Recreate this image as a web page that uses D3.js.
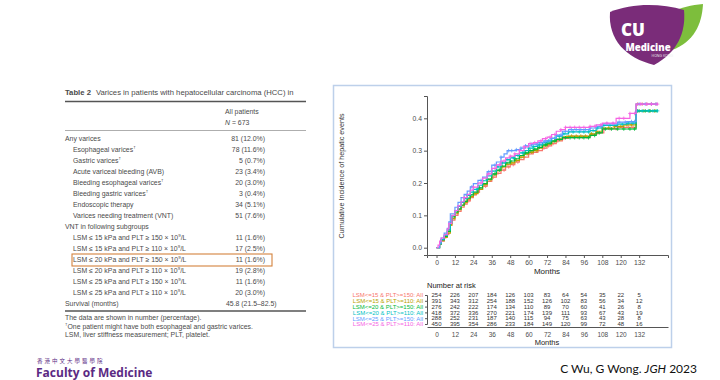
<!DOCTYPE html>
<html><head><meta charset="utf-8">
<script src="https://cdn.jsdelivr.net/npm/d3@7"></script>
<style>body{margin:0;background:#fff}svg{display:block}</style>
</head><body>
<svg id="s" width="720" height="380"></svg>
<script>
// ---------- DATA ----------
const groups = ["LSM<=15 & PLT>=150: All","LSM<=15 & PLT>=110: All","LSM<=20 & PLT>=150: All","LSM<=20 & PLT>=110: All","LSM<=25 & PLT>=150: All","LSM<=25 & PLT>=110: All"];
const groupColors = ["#F8766D","#B79F00","#00BA38","#00BFC4","#619CFF","#F564E3"];
const followUpEnd = 144;
const curveRed = [[0,0],[2,0.012],[3,0.02],[5,0.03],[6,0.04],[8,0.055],[9,0.07],[10,0.085],[12,0.1],[14,0.112],[16,0.125],[18,0.135],[20,0.145],[22,0.155],[24,0.163],[26,0.172],[28,0.18],[30,0.19],[33,0.205],[36,0.218],[39,0.23],[42,0.24],[45,0.25],[48,0.257],[51,0.265],[54,0.272],[57,0.28],[60,0.29],[63,0.295],[66,0.3],[69,0.308],[72,0.315],[75,0.322],[78,0.33],[82,0.338],[86,0.342],[100,0.35],[104,0.355],[109,0.368],[118,0.372],[130,0.444]];
const curveOlive = [[0,0],[2,0.01],[3,0.022],[5,0.032],[7,0.045],[9,0.07],[10,0.09],[12,0.105],[14,0.118],[16,0.13],[18,0.14],[20,0.15],[22,0.158],[24,0.167],[27,0.18],[30,0.195],[33,0.21],[36,0.225],[39,0.238],[42,0.25],[45,0.258],[48,0.262],[51,0.27],[54,0.28],[57,0.29],[60,0.295],[63,0.3],[66,0.308],[69,0.315],[72,0.32],[75,0.328],[78,0.335],[82,0.343],[86,0.345],[100,0.352],[104,0.36],[108,0.37],[116,0.375],[122,0.38],[130,0.423]];
const curveGreen = [[0,0],[2,0.012],[3,0.025],[5,0.035],[7,0.05],[9,0.075],[10,0.095],[12,0.11],[14,0.12],[16,0.132],[18,0.143],[20,0.153],[22,0.163],[24,0.172],[27,0.185],[30,0.198],[33,0.212],[36,0.228],[39,0.24],[42,0.252],[45,0.262],[48,0.268],[51,0.275],[54,0.285],[57,0.293],[60,0.3],[63,0.305],[66,0.31],[69,0.318],[72,0.323],[75,0.33],[78,0.335],[82,0.34],[100,0.347],[104,0.355],[108,0.367],[130,0.423]];
const curveCyan = [[0,0],[2,0.012],[3,0.025],[5,0.038],[7,0.055],[9,0.08],[10,0.1],[12,0.115],[14,0.128],[16,0.14],[18,0.152],[20,0.162],[22,0.172],[24,0.18],[27,0.193],[30,0.207],[33,0.222],[36,0.237],[39,0.25],[42,0.262],[45,0.272],[48,0.278],[51,0.285],[54,0.293],[57,0.3],[60,0.308],[63,0.313],[66,0.318],[69,0.325],[72,0.33],[75,0.338],[78,0.345],[82,0.352],[86,0.358],[100,0.362],[104,0.37],[108,0.378],[118,0.382],[124,0.385],[130,0.423]];
const curveBlue = [[0,0],[2,0.015],[3,0.03],[5,0.045],[7,0.06],[8,0.08],[9,0.105],[12,0.125],[14,0.14],[16,0.155],[18,0.165],[20,0.175],[22,0.188],[24,0.198],[27,0.208],[30,0.218],[33,0.235],[36,0.255],[39,0.265],[42,0.28],[44,0.29],[46,0.3],[52,0.303],[55,0.308],[58,0.315],[62,0.32],[66,0.325],[70,0.33],[74,0.338],[78,0.348],[82,0.36],[86,0.365],[100,0.37],[104,0.375],[108,0.383],[118,0.388],[124,0.39],[130,0.444]];
const curveMagenta = [[0,0],[1,0.008],[2,0.02],[3,0.03],[5,0.04],[7,0.058],[8,0.075],[10,0.1],[12,0.115],[14,0.13],[16,0.142],[18,0.155],[20,0.165],[22,0.178],[24,0.187],[27,0.2],[30,0.215],[33,0.228],[36,0.245],[39,0.256],[42,0.268],[45,0.278],[48,0.283],[51,0.29],[54,0.3],[57,0.312],[60,0.322],[63,0.325],[66,0.33],[69,0.337],[72,0.342],[75,0.35],[78,0.36],[81,0.365],[84,0.372],[100,0.375],[104,0.38],[108,0.385],[117,0.4],[126,0.415],[130,0.444]];
const censorRed = [21,27,32,37,40,44,47,50,53,57,60,63,66,70,73,76,79,83,86,89,92,95,98,101,105,109,113,117,121,125,128,131,134,137,140,143];
const censorOlive = [19,25,31,35,39,43,46,49,52,55,59,62,65,69,72,75,78,81,85,88,91,94,97,101,104,108,112,116,120,124,127,131,135,139,142];
const censorGreen = [22,28,33,38,41,45,48,51,54,58,61,64,67,71,74,77,80,84,87,90,93,96,99,103,106,110,114,118,122,126,129,132,136,139,143];
const censorCyan = [20,26,30,36,40,43,46,50,53,56,60,63,67,70,73,77,80,83,86,89,93,96,99,102,105,109,113,117,121,125,128,131,134,138,141,144];
const censorBlue = [23,29,34,38,42,47,49,52,55,58,62,65,68,71,75,78,81,84,88,91,94,97,100,104,107,111,115,119,123,127,129,132,136,140,143];
const censorMagenta = [18,24,29,34,38,41,44,48,51,54,57,61,64,68,71,74,77,81,84,87,90,93,96,100,103,107,111,115,119,122,126,129,133,137,140,144];
const monthTicks = [0,12,24,36,48,60,72,84,96,108,120,132];
const incidenceTicks = [0,0.1,0.2,0.3,0.4];
const riskRed     = [254,226,207,184,126,103,83,64,54,35,22,5];
const riskOlive   = [391,343,312,254,188,152,126,102,83,56,34,12];
const riskGreen   = [276,242,222,174,134,110,89,70,60,41,26,8];
const riskCyan    = [418,372,336,270,221,174,139,111,93,67,43,19];
const riskBlue    = [288,252,231,187,140,115,94,75,63,43,28,8];
const riskMagenta = [450,395,354,286,233,184,149,120,99,72,48,16];

// table data
const tableLabels = ["Any varices","Esophageal varices|†","Gastric varices|†","Acute variceal bleeding (AVB)","Bleeding esophageal varices|†","Bleeding gastric varices|†","Endoscopic therapy","Varices needing treatment (VNT)","VNT in following subgroups","LSM ≤ 15 kPa and PLT ≥ 150 × 10^9/L","LSM ≤ 15 kPa and PLT ≥ 110 × 10^9/L","LSM ≤ 20 kPa and PLT ≥ 150 × 10^9/L","LSM ≤ 20 kPa and PLT ≥ 110 × 10^9/L","LSM ≤ 25 kPa and PLT ≥ 150 × 10^9/L","LSM ≤ 25 kPa and PLT ≥ 110 × 10^9/L","Survival (months)"];
const tableValues = ["81 (12.0%)","78 (11.6%)","5 (0.7%)","23 (3.4%)","20 (3.0%)","3 (0.4%)","34 (5.1%)","51 (7.6%)","","11 (1.6%)","17 (2.5%)","11 (1.6%)","19 (2.8%)","11 (1.6%)","20 (3.0%)","45.8 (21.5–82.5)"];
const tableIndent = [0,1,1,1,1,1,1,1,0,1,1,1,1,1,1,0];
const highlightedRow = 11;
const footnotes = ["The data are shown in number (percentage).","†One patient might have both esophageal and gastric varices.","LSM, liver stiffness measurement; PLT, platelet."];

// ---------- DRAW ----------
const svg = d3.select("#s");
svg.append("rect").attr("width",720).attr("height",380).attr("fill","#fff");

// ===== Left: table =====
const FS = 6.9;
const T = svg.append("g").attr("font-family","'Liberation Sans', Arial, sans-serif").attr("fill","#4a4a4a");
svg.append("clipPath").attr("id","tclip").append("rect").attr("x",60).attr("y",80).attr("width",246).attr("height",260);
const tt = T.append("text").attr("clip-path","url(#tclip)").attr("x",65).attr("y",94.5).attr("font-size",7.7);
tt.append("tspan").attr("font-weight","bold").text("Table 2");
tt.append("tspan").attr("dx",5).text("Varices in patients with hepatocellular carcinoma (HCC) in");
T.append("line").attr("x1",65).attr("x2",306).attr("y1",101.5).attr("y2",101.5).attr("stroke","#555").attr("stroke-width",1.4);
T.append("text").attr("x",225).attr("y",114).attr("font-size",FS).text("All patients");
const nt = T.append("text").attr("x",225).attr("y",125).attr("font-size",FS);
nt.append("tspan").attr("font-style","italic").text("N");
nt.append("tspan").text(" = 673");
T.append("line").attr("x1",65).attr("x2",306).attr("y1",130.5).attr("y2",130.5).attr("stroke","#777").attr("stroke-width",0.6);

const rowY = i => 141 + i*11;
tableLabels.forEach((lab,i)=>{
  const t = T.append("text").attr("x", 65 + tableIndent[i]*8).attr("y", rowY(i)).attr("font-size",FS);
  if (lab.includes("|")) {
    const [a,b] = lab.split("|");
    t.append("tspan").text(a);
    t.append("tspan").attr("font-size",4.4).attr("dy",-2.8).text(b);
  } else if (lab.includes("^")) {
    const [a,b] = lab.split("^");
    t.append("tspan").text(a);
    t.append("tspan").attr("font-size",4.4).attr("dy",-2.8).text(b[0]);
    t.append("tspan").attr("dy",2.8).text(b.slice(1));
  } else t.text(lab);
  if (tableValues[i]) {
    if (i === tableLabels.length-1)
      T.append("text").attr("x",226).attr("y",rowY(i)).attr("font-size",FS).text(tableValues[i]);
    else
      T.append("text").attr("x",265).attr("y",rowY(i)).attr("font-size",FS).attr("text-anchor","end").text(tableValues[i]);
  }
});
T.append("rect").attr("x",72).attr("y",rowY(highlightedRow)-8).attr("width",200).attr("height",12)
 .attr("fill","none").attr("stroke","#D4823C").attr("stroke-width",1.1);
const lastRule = rowY(tableLabels.length-1)+5;
T.append("line").attr("x1",65).attr("x2",306).attr("y1",lastRule).attr("y2",lastRule).attr("stroke","#555").attr("stroke-width",1.4);
footnotes.forEach((f,i)=>{
  const t = T.append("text").attr("x",65).attr("y",lastRule+9+i*8.5).attr("font-size",FS);
  if (f.startsWith("†")) { t.append("tspan").attr("font-size",4.4).attr("dy",-2.8).text("†"); t.append("tspan").attr("dy",2.8).text(f.slice(1)); }
  else t.text(f);
});

// ===== Right: chart panel =====
svg.append("rect").attr("x",333.5).attr("y",85.5).attr("width",338).attr("height",262)
  .attr("fill","#fff").attr("stroke","#BDD0EA").attr("stroke-width",1.5);

const x = d3.scaleLinear().domain([-6.2,150.8]).range([427,668]);
const y = d3.scaleLinear().domain([-0.0226,0.469]).range([255,96]);
const C = svg.append("g").attr("font-family","'Liberation Sans', Arial, sans-serif");

const yAx = C.append("g").attr("transform","translate(427,0)")
  .call(d3.axisLeft(y).tickValues(incidenceTicks).tickFormat(d3.format(".1f")).tickSize(3).tickPadding(2));
const xAx = C.append("g").attr("transform","translate(0,255)")
  .call(d3.axisBottom(x).tickValues(monthTicks).tickSize(3).tickPadding(2));
[yAx,xAx].forEach(a=>{
  a.select(".domain").attr("stroke","#555").attr("stroke-width",1);
  a.selectAll(".tick line").attr("stroke","#555");
  a.selectAll(".tick text").attr("fill","#4d4d4d").attr("font-size",6.8).attr("font-family","'Liberation Sans', Arial, sans-serif");
});
C.append("text").attr("transform","translate(344,176) rotate(-90)").attr("text-anchor","middle")
  .attr("font-size",7.2).attr("fill","#333").text("Cumulative Incidence of hepatic events");
C.append("text").attr("x",547).attr("y",274).attr("text-anchor","middle").attr("font-size",8).attr("fill","#222").text("Months");

const curves = [curveRed,curveOlive,curveGreen,curveCyan,curveBlue,curveMagenta];
const censors = [censorRed,censorOlive,censorGreen,censorCyan,censorBlue,censorMagenta];
const line = d3.line().x(d=>x(d[0])).y(d=>y(d[1])).curve(d3.curveStepAfter);
const stepAt = (c,t)=>{ let v=0; for (const p of c) if (p[0]<=t) v=p[1]; return v; };
curves.forEach((c,i)=>{
  const pts = c.concat([[followUpEnd, c[c.length-1][1]]]);
  C.append("path").attr("d",line(pts)).attr("fill","none").attr("stroke",groupColors[i]).attr("stroke-width",1.2);
  C.append("g").selectAll("path").data(censors[i]).join("path")
    .attr("transform",t=>`translate(${x(t)},${y(stepAt(c,t))})`)
    .attr("d","M-1.8,0H1.8M0,-1.8V1.8").attr("stroke",groupColors[i]).attr("stroke-width",0.8);
});

// ===== Risk table =====
C.append("text").attr("x",427).attr("y",288).attr("font-size",7.5).attr("fill","#222").text("Number at risk");
const risks = [riskRed,riskOlive,riskGreen,riskCyan,riskBlue,riskMagenta];
const ry = d3.scalePoint().domain(groups).range([295,324]);
const rAx = C.append("g").attr("transform","translate(427,0)").call(d3.axisLeft(ry).tickSize(2).tickPadding(2));
rAx.select(".domain").attr("stroke","#555");
rAx.selectAll(".tick line").attr("stroke","#555");
rAx.selectAll(".tick text").attr("font-size",6).attr("font-family","'Liberation Sans', Arial, sans-serif")
  .attr("fill",(d,i)=>groupColors[i]);
risks.forEach((r,i)=>{
  C.append("g").selectAll("text").data(r).join("text")
    .attr("x",(d,j)=>x(monthTicks[j])).attr("y",ry(groups[i])+2.2).attr("text-anchor","middle")
    .attr("font-size",6).attr("fill","#333").text(d=>d);
});
const rx = C.append("g").attr("transform","translate(0,327)")
  .call(d3.axisBottom(x).tickValues(monthTicks).tickSize(0).tickPadding(5));
rx.select(".domain").attr("stroke","#555");
rx.selectAll(".tick text").attr("fill","#4d4d4d").attr("font-size",6.5).attr("font-family","'Liberation Sans', Arial, sans-serif");
C.append("text").attr("x",547).attr("y",345).attr("text-anchor","middle").attr("font-size",7.5).attr("fill","#222").text("Months");

// ===== CU Medicine logo =====
const L = svg.append("g");
L.append("path").attr("d","M652,30 C660,14 680,6 703,4 C702,24 694,42 672,50 C664,52 656,46 652,30 Z").attr("fill","#7DBE3C");
L.append("path").attr("d","M610,12 C632,3 660,3 684,10 C686,32 678,52 654,65 C626,58 608,40 610,12 Z").attr("fill","#7A2C79");
L.append("text").attr("x",621).attr("y",36).attr("font-family","'Open Sans', sans-serif").attr("font-weight","800").attr("font-size",17).attr("fill","#fff").text("CU");
L.append("text").attr("x",648).attr("y",50.5).attr("text-anchor","middle").attr("font-family","'Open Sans', sans-serif").attr("font-weight","800").attr("font-size",9.6).attr("fill","#fff").text("Medicine");
L.append("text").attr("x",673).attr("y",56.5).attr("text-anchor","end").attr("font-family","'Open Sans', sans-serif").attr("font-size",3.5).attr("fill","#eee").text("HONG KONG");

// ===== Faculty logo =====
svg.append("text").attr("x",37).attr("y",363).attr("font-family","'Noto Sans CJK TC', sans-serif").attr("font-size",5.5).attr("letter-spacing",2).attr("fill","#5B2A83").text("香港中文大學醫學院");
svg.append("text").attr("x",36).attr("y",376.5).attr("font-family","'Open Sans', sans-serif").attr("font-weight","bold").attr("font-size",12).attr("fill","#5B2A83").text("Faculty of Medicine");
svg.append("text").attr("x",37).attr("y",385).attr("font-family","'Open Sans', sans-serif").attr("font-size",7.5).attr("fill","#5B2A83").text("The Chinese University of Hong Kong");

// ===== Citation =====
const cite = svg.append("text").attr("x",697).attr("y",373).attr("text-anchor","end").attr("font-family","Lato, sans-serif").attr("font-size",12).attr("fill","#111");
cite.append("tspan").text("C Wu, G Wong. ");
cite.append("tspan").attr("font-style","italic").text("JGH");
cite.append("tspan").text(" 2023");
</script></body></html>
